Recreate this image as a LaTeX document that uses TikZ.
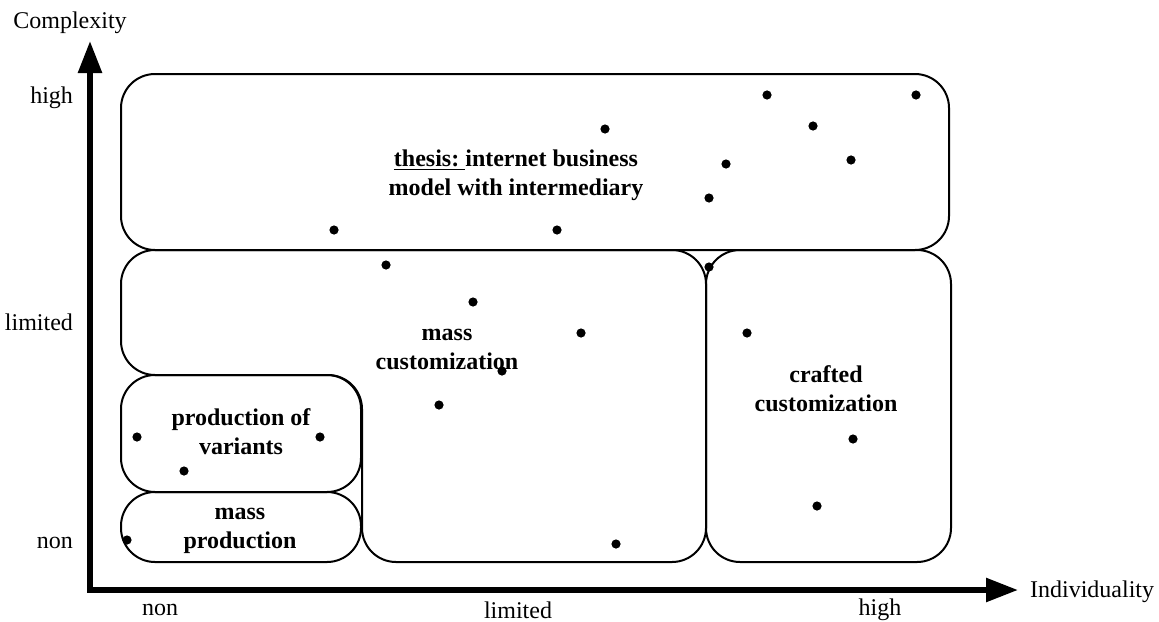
\documentclass[tikz,border=0pt]{standalone}
\usepackage{fontspec}
\setmainfont{Liberation Serif}
\usetikzlibrary{arrows.meta}

\begin{document}
\begin{tikzpicture}[x=0.5pt,y=-0.5pt,
		font=\fontsize{12}{14.5}\selectfont,
		zone/.style={draw,line width=1pt,rounded corners=17pt},
		axis/.style={line width=2.8pt,{Triangle[length=16pt,width=11.5pt]}-{Triangle[length=16pt,width=11.5pt]}},
		zonetext/.style={align=center,font=\fontsize{12}{14.5}\selectfont\bfseries},
		dot/.style={fill=black}]
		\useasboundingbox (0,0) rectangle (1159,621);
		% axes
		\coordinate (ytip) at (90,41);
		\coordinate (xtip) at (1018,590);
		\draw[axis] (ytip) |- (xtip);
		\node (cplx) at (70,23) {Complexity};
		\node[anchor=west] (indiv) at (1023,592) {Individuality};
		\node[anchor=east] (yhigh) at (80,98) {high};
		\node[anchor=east] (ylim) at (80,322) {limited};
		\node[anchor=east] (ynon) at (80,543) {non};
		\node (xnon) at (160,610) {non};
		\node (xlim) at (518,610) {limited};
		\node (xhigh) at (880,610) {high};
		% fields
		\draw[zone] (121,74) rectangle (949,250);
		\draw[zone] (121,250) -- (706,250) -- (706,562) -- (362,562) -- (362,375) -- (121,375) -- cycle;
		\draw[zone] (706,250) rectangle (951,562);
		\draw[zone] (121,375) rectangle (361,492);
		\draw[zone] (121,492) rectangle (361,562);
		\node[zonetext] (thesis) at (516,175) {\underline{thesis:\ }internet business\\model with intermediary};
		\node[zonetext] (masscust) at (447,349) {mass\\customization};
		\node[zonetext] (crafted) at (826,389) {crafted\\customization};
		\node[zonetext] (variants) at (241,432) {production of\\variants};
		\node[zonetext] (massprod) at (240,531) {mass\\production};
		% products
		\foreach \px/\py in {767/95,916/95,605/129,813/126,726/164,851/160,709/198,334/230,557/230,
				386/265,709/267,473/302,581/333,747/333,502/371,439/405,853/439,817/506,616/544,
				137/437,320/437,184/471,127/540}
			\fill[dot] (\px,\py) circle[radius=2.3pt];
\end{tikzpicture}
\end{document}
